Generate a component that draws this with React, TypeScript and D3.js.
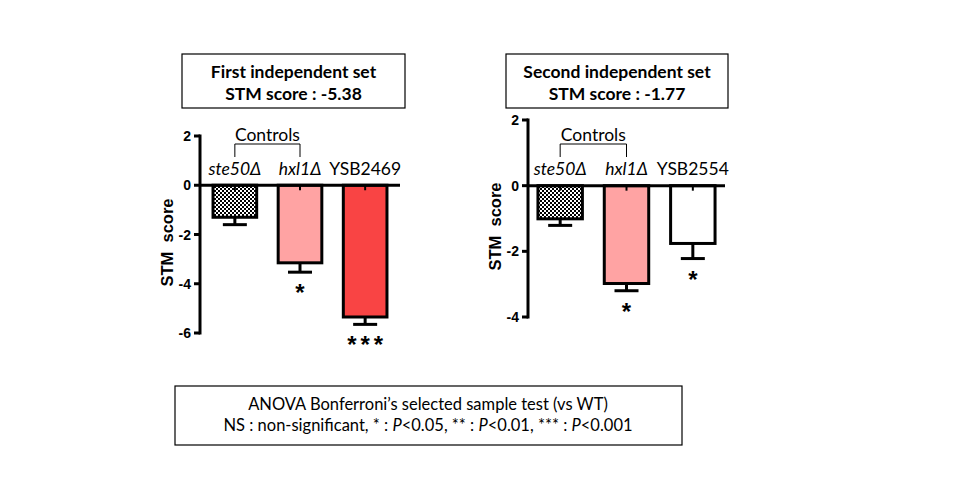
import * as d3 from 'd3';

// panel 1
const titles1 = ['First independent set', 'STM score : -5.38'];
const categories1 = ['ste50Δ', 'hxl1Δ', 'YSB2469'];
const values1 = [-1.3, -3.15, -5.35];
const errors1 = [0.3, 0.38, 0.3];
const stars1 = ['', '*', '***'];
const ticks1 = [2, 0, -2, -4, -6];

// panel 2
const titles2 = ['Second independent set', 'STM score : -1.77'];
const categories2 = ['ste50Δ', 'hxl1Δ', 'YSB2554'];
const values2 = [-1.01, -2.98, -1.76];
const errors2 = [0.2, 0.22, 0.46];
const stars2 = ['', '*', '*'];
const ticks2 = [2, 0, -2, -4];

const italicLabels = ['ste50Δ', 'hxl1Δ'];
const fills = ['url(#checker)', '#ffa3a3', '#f94444', '#ffffff'];
const fills1 = [fills[0], fills[1], fills[2]];
const fills2 = [fills[0], fills[1], fills[3]];

const footnote = ['ANOVA Bonferroni’s selected sample test (vs WT)'];

const calibri = 'Lato, "Open Sans", sans-serif';
const arial = '"Liberation Sans", Arial, sans-serif';

interface PanelProps {
    titles: string[];
    categories: string[];
    values: number[];
    errors: number[];
    stars: string[];
    ticks: number[];
    barFills: string[];
    xRange: [number, number];
    yRange: [number, number];
    outer: number;
    box: { x: number; y: number; w: number; h: number };
}

function Panel({ titles, categories, values, errors, stars, ticks, barFills, xRange, yRange, outer, box }: PanelProps) {
    const yScale = d3
        .scaleLinear()
        .domain([d3.max(ticks) as number, d3.min(ticks) as number])
        .range(yRange);
    const xScale = d3.scaleBand().domain(categories).range(xRange).paddingInner(0.33).paddingOuter(outer);
    const x0 = xRange[0];
    const bw = xScale.bandwidth();
    const first = xScale(categories[0]) as number;
    const second = xScale(categories[1]) as number;
    const cx = box.x + box.w / 2;

    return (
        <g>
            <rect x={box.x} y={box.y} width={box.w} height={box.h} fill='white' stroke='black' strokeWidth={1.2} />
            {titles.map((t, i) => (
                <text
                    key={t}
                    x={cx}
                    y={box.y + 24 + i * 22}
                    textAnchor='middle'
                    fontFamily={calibri}
                    fontWeight='bold'
                    fontSize={17.5}
                >
                    {t}
                </text>
            ))}

            {/* controls bracket */}
            <text x={(first + second + bw) / 2} y={141} textAnchor='middle' fontFamily={calibri} fontSize={17.5}>
                Controls
            </text>
            <path
                d={`M${first + bw / 2},157V144H${second + bw / 2}V157`}
                fill='none'
                stroke='black'
                strokeWidth={1}
            />

            {categories.map((c, i) => {
                const bx = xScale(c) as number;
                const y0 = yScale(0);
                const yv = yScale(values[i]);
                const ye = yScale(values[i] - errors[i]);
                const mid = bx + bw / 2;
                return (
                    <g key={c}>
                        <rect x={bx} y={y0} width={bw} height={yv - y0} fill={barFills[i]} stroke='black' strokeWidth={3} />
                        <line x1={mid} x2={mid} y1={yv} y2={ye} stroke='black' strokeWidth={3} />
                        <line x1={mid - 12} x2={mid + 12} y1={ye} y2={ye} stroke='black' strokeWidth={3} />
                        <line x1={mid} x2={mid} y1={y0} y2={y0 + 5} stroke='black' strokeWidth={2} />
                        <text
                            x={mid}
                            y={175}
                            textAnchor='middle'
                            fontFamily={calibri}
                            fontSize={17.5}
                            fontStyle={italicLabels.includes(c) ? 'italic' : 'normal'}
                        >
                            {c}
                        </text>
                        {stars[i] && (
                            <text
                                x={mid + 2}
                                y={ye + 29}
                                textAnchor='middle'
                                fontFamily={arial}
                                fontWeight='bold'
                                fontSize={24}
                                letterSpacing={4}
                            >
                                {stars[i]}
                            </text>
                        )}
                    </g>
                );
            })}

            {/* axes */}
            <line x1={x0} x2={xRange[1]} y1={yScale(0)} y2={yScale(0)} stroke='black' strokeWidth={3} />
            <line x1={x0} x2={x0} y1={yRange[0] - 1.5} y2={yRange[1] + 1.5} stroke='black' strokeWidth={3} />
            {ticks.map((t) => (
                <g key={t} transform={`translate(0, ${yScale(t)})`}>
                    <line x1={x0 - 6} x2={x0} stroke='black' strokeWidth={3} />
                    <text
                        x={x0 - 9}
                        dominantBaseline='central'
                        textAnchor='end'
                        fontFamily={arial}
                        fontWeight='bold'
                        fontSize={14}
                    >
                        {t}
                    </text>
                </g>
            ))}
            <text
                transform={`translate(${x0 - 27}, ${(yRange[0] + yRange[1]) / 2 + 8}) rotate(-90)`}
                textAnchor='middle'
                fontFamily={arial}
                fontWeight='bold'
                fontSize={16.5}
                style={{ whiteSpace: 'pre' }}
            >
                {'STM  score'}
            </text>
        </g>
    );
}

export default function App() {
    const width = 960;
    const height = 500;
    return (
        <svg
            width={width}
            height={height}
            viewBox={`0 0 ${width} ${height}`}
            style={{ position: 'absolute', left: 0, top: 0, background: 'white' }}
        >
            <defs>
                <pattern id='checker' width={4} height={4} patternUnits='userSpaceOnUse'>
                    <rect width={4} height={4} fill='white' />
                    <rect width={2} height={2} fill='black' />
                    <rect x={2} y={2} width={2} height={2} fill='black' />
                </pattern>
            </defs>
            <rect width={width} height={height} fill='white' />
            <Panel
                titles={titles1}
                categories={categories1}
                values={values1}
                errors={errors1}
                stars={stars1}
                ticks={ticks1}
                barFills={fills1}
                xRange={[200, 400]}
                yRange={[136, 333]}
                outer={0.2}
                box={{ x: 182, y: 54, w: 223, h: 54 }}
            />
            <Panel
                titles={titles2}
                categories={categories2}
                values={values2}
                errors={errors2}
                stars={stars2}
                ticks={ticks2}
                barFills={fills2}
                xRange={[528, 725]}
                yRange={[120, 317]}
                outer={0.15}
                box={{ x: 506, y: 54, w: 222, h: 54 }}
            />

            {/* footnote */}
            <rect x={175} y={386} width={507} height={59} fill='white' stroke='black' strokeWidth={1.2} />
            <text x={428} y={410} textAnchor='middle' fontFamily={calibri} fontSize={16.5}>
                {footnote[0]}
            </text>
            <text x={428} y={431} textAnchor='middle' fontFamily={calibri} fontSize={16.5}>
                NS : non-significant, * : <tspan fontStyle='italic'>P</tspan>&lt;0.05, ** :{' '}
                <tspan fontStyle='italic'>P</tspan>&lt;0.01, *** : <tspan fontStyle='italic'>P</tspan>&lt;0.001
            </text>
        </svg>
    );
}
